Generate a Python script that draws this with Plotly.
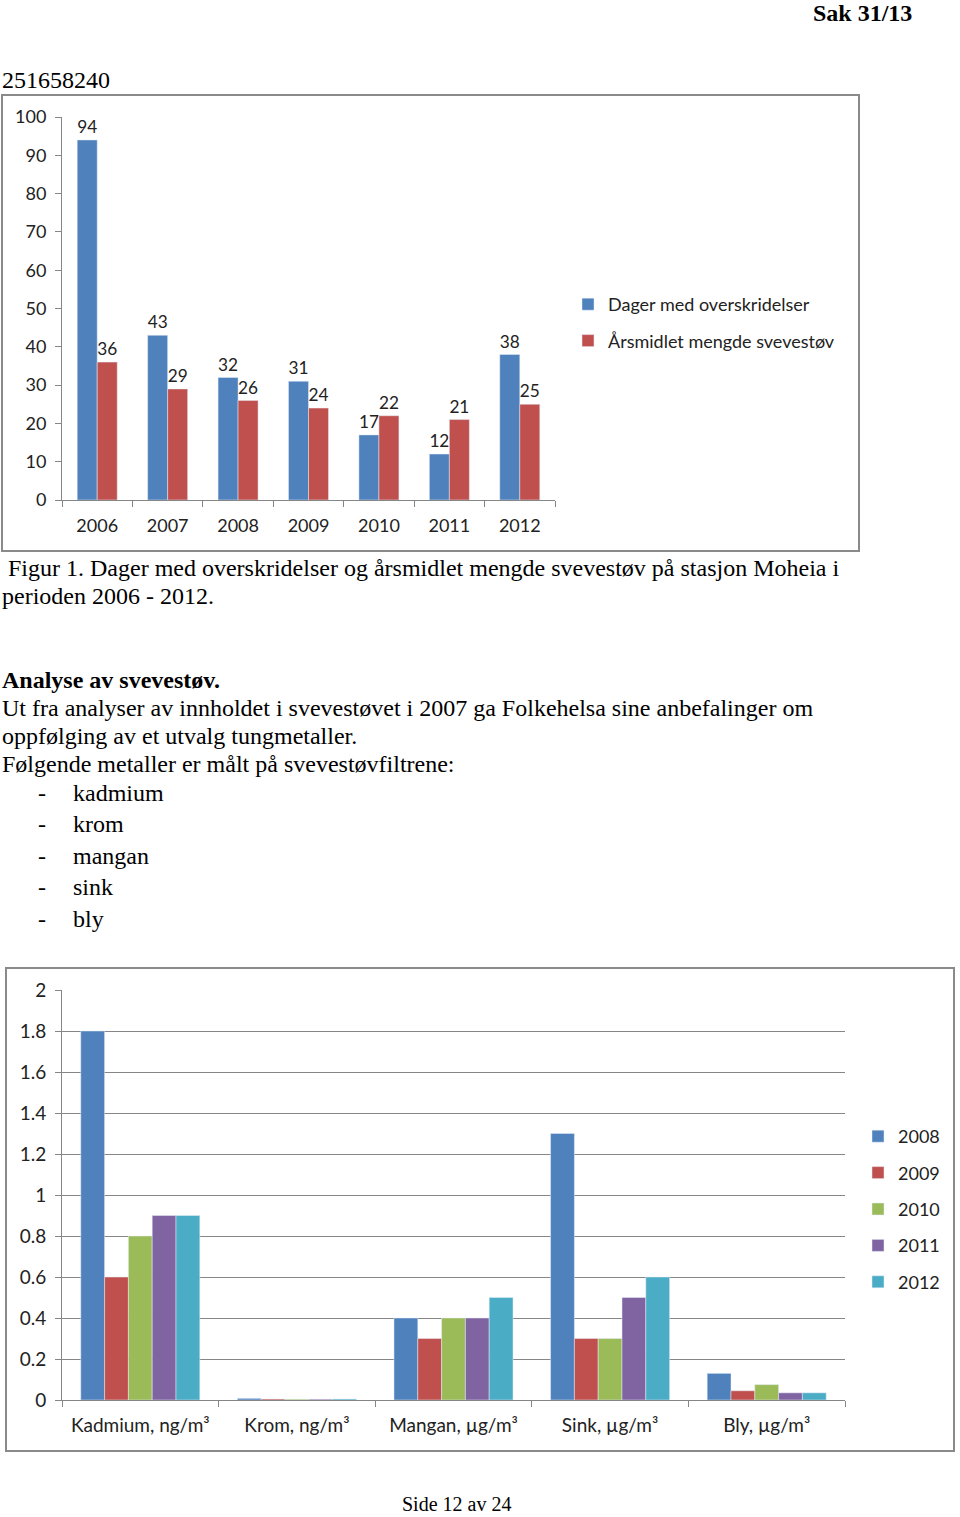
import plotly.graph_objects as go

W, H = 960, 1517

# --- top chart data ---
years = ["2006", "2007", "2008", "2009", "2010", "2011", "2012"]
days_over = [94, 43, 32, 31, 17, 12, 38]
annual_mean = [36, 29, 26, 24, 22, 21, 25]

# --- bottom chart data ---
metals = ["Kadmium, ng/m³", "Krom, ng/m³", "Mangan, µg/m³", "Sink, µg/m³", "Bly, µg/m³"]
metal_years = ["2008", "2009", "2010", "2011", "2012"]
metal_values = {
    "2008": [1.8, 0.008, 0.4, 1.3, 0.13],
    "2009": [0.6, 0.005, 0.3, 0.3, 0.045],
    "2010": [0.8, 0.004, 0.4, 0.3, 0.075],
    "2011": [0.9, 0.004, 0.4, 0.5, 0.035],
    "2012": [0.9, 0.005, 0.5, 0.6, 0.035],
}

COLORS = ["#4F81BD", "#C0504D", "#9BBB59", "#8064A2", "#4BACC6"]
AXIS_GRAY = "#868686"
SANS = "Lato, Open Sans, sans-serif"
SERIF = "Liberation Serif, Times New Roman, serif"


def px_x(x):
    return x / W


def px_y(y):
    return 1 - y / H


fig = go.Figure()

# top chart: two bars per year, each ~0.284 of the category width
fig.add_trace(go.Bar(
    x=years, y=days_over, name="Dager med overskridelser",
    marker_color=COLORS[0], text=days_over, textposition="outside",
    textfont=dict(size=18, color="#222"), cliponaxis=False,
    width=0.284, offset=-0.284,
    xaxis="x", yaxis="y", legend="legend", legendgroup="a",
))
fig.add_trace(go.Bar(
    x=years, y=annual_mean, name="Årsmidlet mengde svevestøv",
    marker_color=COLORS[1], text=annual_mean, textposition="outside",
    textfont=dict(size=18, color="#222"), cliponaxis=False,
    width=0.284, offset=0,
    xaxis="x", yaxis="y", legend="legend", legendgroup="b",
))

for i, yr in enumerate(metal_years):
    fig.add_trace(go.Bar(
        x=metals, y=metal_values[yr], name=yr, marker_color=COLORS[i],
        xaxis="x2", yaxis="y2", legend="legend2", legendgroup="m" + yr,
    ))

tick_font = dict(family=SANS, size=18, color="#222")
tick_font2 = dict(family=SANS, size=19, color="#222")

fig.update_layout(
    width=W, height=H,
    margin=dict(l=0, r=0, t=0, b=0, autoexpand=False),
    paper_bgcolor="white", plot_bgcolor="white",
    barmode="group", bargap=0.24,
    font=dict(family=SANS, color="#222"),
    xaxis=dict(
        domain=[px_x(62), px_x(555)], anchor="y", automargin=False,
        showline=True, linecolor=AXIS_GRAY, linewidth=1,
        ticks="outside", tickson="boundaries", ticklen=6, tickcolor=AXIS_GRAY,
        tickfont=tick_font, ticklabelstandoff=9,
    ),
    yaxis=dict(
        domain=[px_y(500), px_y(117)], anchor="x", range=[0, 100], dtick=10,
        automargin=False,
        showline=True, linecolor=AXIS_GRAY, linewidth=1, showgrid=False,
        ticks="outside", ticklen=6, tickcolor=AXIS_GRAY,
        tickfont=tick_font, ticklabelstandoff=5, zeroline=False,
    ),
    xaxis2=dict(
        domain=[px_x(62), px_x(845)], anchor="y2", automargin=False,
        showline=True, linecolor=AXIS_GRAY, linewidth=1,
        ticks="outside", tickson="boundaries", ticklen=6, tickcolor=AXIS_GRAY,
        tickfont=tick_font2, ticklabelstandoff=8,
    ),
    yaxis2=dict(
        domain=[px_y(1400), px_y(990)], anchor="x2", range=[0, 2], dtick=0.2,
        automargin=False,
        showline=True, linecolor=AXIS_GRAY, linewidth=1,
        showgrid=True, gridcolor=AXIS_GRAY, gridwidth=1,
        ticks="outside", ticklen=6, tickcolor=AXIS_GRAY,
        tickfont=tick_font2, ticklabelstandoff=5, zeroline=False,
    ),
    legend=dict(
        x=px_x(568), y=px_y(286), xanchor="left", yanchor="top",
        font=dict(family=SANS, size=18, color="#222"),
        traceorder="grouped", tracegroupgap=10, itemwidth=30,
        bgcolor="rgba(0,0,0,0)",
    ),
    legend2=dict(
        x=px_x(858), y=px_y(1118), xanchor="left", yanchor="top",
        font=dict(family=SANS, size=18, color="#222"),
        traceorder="grouped", tracegroupgap=10, itemwidth=30,
        bgcolor="rgba(0,0,0,0)",
    ),
)

# chart frames
fig.add_shape(type="rect", xref="paper", yref="paper",
              x0=px_x(2), x1=px_x(859), y0=px_y(551), y1=px_y(95),
              line=dict(color="#8a8a8a", width=2))
fig.add_shape(type="rect", xref="paper", yref="paper",
              x0=px_x(6), x1=px_x(954), y0=px_y(1451), y1=px_y(968),
              line=dict(color="#8a8a8a", width=2))

texts = [
    ("Sak 31/13", 914, 13, "right", True, 24),
    ("251658240", 0, 80, "left", False, 24),
    ("Figur 1. Dager med overskridelser og årsmidlet mengde svevestøv på stasjon Moheia i", 6, 568, "left", False, 24),
    ("perioden 2006 - 2012.", 0, 596, "left", False, 24),
    ("Analyse av svevestøv.", 0, 680, "left", True, 24),
    ("Ut fra analyser av innholdet i svevestøvet i 2007 ga Folkehelsa sine anbefalinger om", 0, 708, "left", False, 24),
    ("oppfølging av et utvalg tungmetaller.", 0, 736, "left", False, 24),
    ("Følgende metaller er målt på svevestøvfiltrene:", 0, 764, "left", False, 24),
    ("Side 12 av 24", 456, 1504, "center", False, 20),
]
for t, x, y, anchor, bold, size in texts:
    fig.add_annotation(
        text=f"<b>{t}</b>" if bold else t, x=px_x(x), y=px_y(y),
        xref="paper", yref="paper", xanchor=anchor, yanchor="middle",
        showarrow=False, font=dict(family=SERIF, size=size, color="black"),
    )

list_items = ["kadmium", "krom", "mangan", "sink", "bly"]
list_y = [793, 824, 856, 887, 919]
for item, y in zip(list_items, list_y):
    fig.add_annotation(text="-", x=px_x(36), y=px_y(y), xref="paper", yref="paper",
                       xanchor="left", yanchor="middle", showarrow=False,
                       font=dict(family=SERIF, size=24, color="black"))
    fig.add_annotation(text=item, x=px_x(71), y=px_y(y), xref="paper", yref="paper",
                       xanchor="left", yanchor="middle", showarrow=False,
                       font=dict(family=SERIF, size=24, color="black"))

fig.write_html(
    "out.html",
    config={"displayModeBar": False},
    post_script="document.body.style.margin='0';document.body.style.overflow='hidden';",
)
